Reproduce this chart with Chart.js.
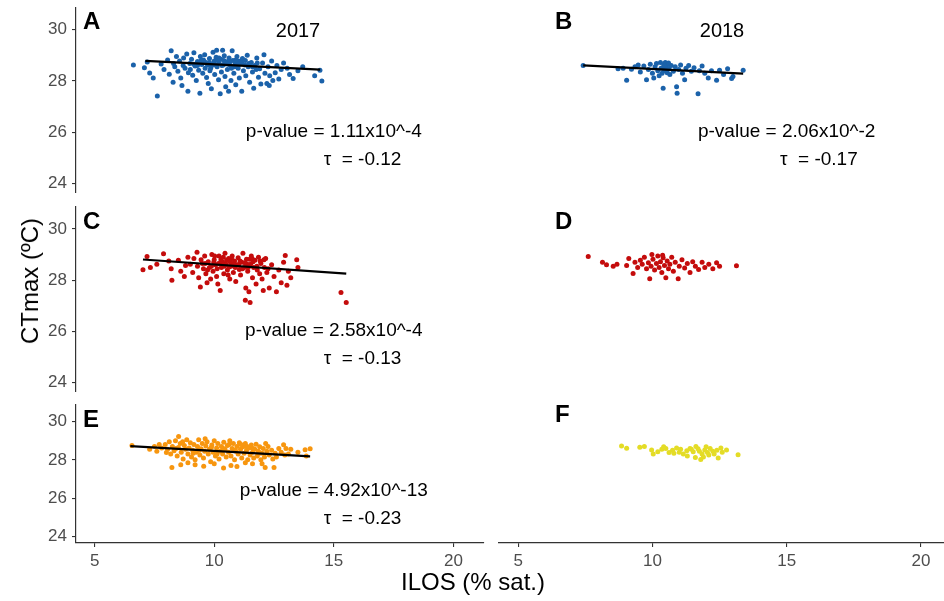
<!DOCTYPE html>
<html>
<head>
<meta charset="utf-8">
<script src="https://cdn.jsdelivr.net/npm/chart.js@4.4.0/dist/chart.umd.min.js"></script>
<style>
  body { margin: 0; background: #fff; }
  #wrap { position: relative; width: 944px; height: 601px; overflow: hidden; background: #fff; }
  #wrap canvas { position: absolute; left: 0; top: 0; }
  .axt { position: absolute; font-family: "Liberation Sans", Arial, sans-serif; font-size: 24px; color: #000; white-space: nowrap; }
</style>
</head>
<body>
<div id="wrap">
  <canvas id="pA" width="944" height="601"></canvas>
  <canvas id="pB" width="944" height="601"></canvas>
  <canvas id="pC" width="944" height="601"></canvas>
  <canvas id="pD" width="944" height="601"></canvas>
  <canvas id="pE" width="944" height="601"></canvas>
  <canvas id="pF" width="944" height="601"></canvas>
  <div class="axt" style="left:30px;top:281px;transform:translate(-50%,-50%) rotate(-90deg);">CTmax (ºC)</div>
  <div class="axt" style="left:473px;top:582px;transform:translate(-50%,-50%);">ILOS (% sat.)</div>
</div>
<script>
'use strict';

/* Data: [ILOS, CTmax] */

var xTicks = [5, 10, 15, 20];
var yTicks = [24, 26, 28, 30];
var yRange = [23.65, 30.87];
var xRangeLeft = [4.22, 21.28];
var xRangeRight = [4.26, 20.86];

var years = ['2017', '2018'];

// A - 2017, blue
var ptsA = [
  [6.62,28.62],[7.08,28.52],[7.30,28.31],[7.45,28.12],[7.62,27.42],[7.2,28.74],
  [7.78,28.66],[7.9,28.45],[8.05,28.82],[8.12,28.26],[8.2,29.18],[8.28,27.95],[8.35,28.55],[8.42,28.95],[8.48,28.38],[8.3,28.68],
  [8.55,28.78],[8.6,28.12],[8.65,27.82],[8.72,28.9],[8.78,28.5],[8.85,29.05],[8.9,27.6],[8.92,28.32],[8.98,28.68],[9.05,28.85],
  [9.1,28.22],[9.15,29.1],[9.2,28.58],[9.25,28.02],[9.3,28.76],[9.35,28.42],[9.4,27.52],[9.42,28.95],[9.48,28.64],
  [9.52,28.3],[9.55,28.82],[9.6,29.02],[9.62,28.5],[9.68,28.14],[9.7,28.7],[9.75,27.9],[9.8,28.88],[9.82,28.4],[9.88,27.7],
  [9.9,28.6],[9.95,29.12],[10.0,28.78],[10.02,28.25],[10.08,28.92],[10.1,29.2],[10.12,28.55],[10.18,28.05],[10.2,28.7],
  [10.25,27.5],[10.28,28.85],[10.3,28.35],[10.35,29.2],[10.38,28.62],[10.42,28.98],[10.45,28.18],[10.48,27.78],
  [10.52,28.75],[10.55,28.45],[10.6,27.6],[10.62,28.9],[10.68,28.6],[10.7,28.02],[10.75,29.18],[10.78,28.8],[10.82,28.3],
  [10.88,28.68],[10.9,27.85],[10.95,28.95],[11.0,28.5],[11.05,28.12],[11.1,28.78],[11.15,27.6],[11.18,28.88],[11.22,28.4],
  [11.28,28.62],[11.32,28.2],[11.38,29.0],[11.42,28.55],[11.48,27.95],
  [11.55,28.72],[11.6,28.35],[11.65,27.72],[11.7,28.6],[11.78,28.9],[11.85,28.15],[11.9,28.48],[11.95,27.88],[12.02,28.7],
  [12.08,29.02],[12.12,28.3],[12.2,27.9],[12.25,28.55],[12.32,28.2],[12.4,28.78],[12.45,28.02],
  [12.55,28.32],[12.62,28.6],[12.7,28.08],[12.8,28.45],[12.9,28.7],[13.05,28.5],[13.15,28.25],[13.3,28.1],[13.5,28.4],
  [13.7,28.55],[14.2,28.2],[14.42,28.42],[14.5,28.0],[12.3,27.82],
  [9.0,28.45],[9.3,28.6],[9.6,28.75],[9.85,28.5],[10.05,28.62],[10.4,28.8],[10.65,28.75],[10.85,28.55],[11.05,28.65],
  [11.3,28.8],[11.6,28.55],[11.8,28.7],[10.2,28.9],[9.45,28.8],[8.7,28.6],
  [9.15,28.65],[9.38,28.72],[9.72,28.62],[9.98,28.68],[10.15,28.8],[10.32,28.6],[10.58,28.65],[10.72,28.5],[10.98,28.78],
  [11.15,28.7],[11.45,28.68],[11.75,28.45],[10.45,28.7],[9.8,28.72],[10.9,28.82]
];
var fitA = [[7.12,28.78],[14.43,28.44]];

// B - 2018, blue
var ptsB = [
  [7.42,28.6],[8.72,28.48],[8.91,28.5],[9.04,28.03],[9.22,28.46],[9.35,28.55],[9.47,28.62],[9.55,28.35],[9.68,28.58],
  [9.78,28.05],[9.85,28.45],[9.92,28.65],[10.0,28.3],[10.05,28.12],[10.1,28.55],[10.15,28.68],[10.2,28.4],[10.25,28.2],
  [10.3,28.72],[10.32,28.5],[10.36,28.3],[10.4,27.72],[10.42,28.62],[10.45,28.42],[10.48,28.72],[10.52,28.55],[10.55,28.32],
  [10.58,28.65],[10.62,28.48],[10.65,28.25],[10.7,28.6],[10.78,28.38],[10.85,28.55],[10.9,27.78],[10.92,27.52],[10.98,28.45],
  [11.05,28.62],[11.12,28.3],[11.2,28.05],[11.25,28.5],[11.35,28.6],[11.45,28.38],[11.55,28.52],[11.7,27.5],[11.75,28.4],
  [11.85,28.58],[11.95,28.3],[12.08,28.12],[12.2,28.4],[12.39,28.03],[12.5,28.42],[12.65,28.25],[12.8,28.48],[12.95,28.1],
  [13.0,28.18],[13.38,28.42],[10.4,28.5],[10.5,28.4],[10.6,28.7],[10.45,28.6],[10.55,28.45]
];
var fitB = [[7.42,28.61],[13.38,28.29]];

// C - 2017, red
var ptsC = [
  [7.02,28.41],[7.19,28.93],[7.33,28.5],[7.6,28.62],[7.88,29.03],[8.1,28.75],[8.2,28.45],[8.23,28.0],[8.5,28.78],[8.6,28.35],
  [8.75,28.15],[8.8,28.58],[8.9,28.9],[9.0,28.62],[9.1,28.3],[9.15,28.85],[9.28,29.09],[9.35,28.1],[9.42,27.74],[9.5,28.65],
  [9.55,28.45],[9.6,28.95],[9.65,28.25],[9.7,27.9],[9.75,28.72],[9.8,28.5],[9.85,28.05],[9.9,29.0],[9.95,28.35],[10.0,28.8],
  [10.05,28.6],[10.1,28.15],[10.15,27.85],[10.2,28.95],[10.25,27.6],[10.3,28.5],[10.35,28.7],[10.4,28.25],[10.45,29.05],
  [10.5,28.62],[10.55,28.4],[10.6,28.85],[10.65,28.05],[10.7,28.55],[10.75,28.95],[10.8,28.3],[10.85,28.75],[10.9,27.95],
  [10.95,28.6],[11.0,28.88],[11.05,28.42],[11.1,28.2],[11.15,28.7],[11.2,29.05],[11.25,28.5],[11.3,27.22],[11.32,27.7],
  [11.35,28.82],[11.4,28.35],[11.45,27.55],[11.5,27.13],[11.52,28.62],[11.55,28.95],[11.6,28.1],[11.65,28.5],[11.7,28.78],
  [11.75,27.85],[11.8,28.4],[11.85,28.9],[11.9,28.25],[11.95,28.65],[12.0,28.05],[12.05,27.6],[12.1,28.5],[12.15,28.85],
  [12.2,28.3],[12.3,27.7],[12.4,28.6],[12.5,28.15],[12.6,27.55],[12.7,28.4],[12.8,27.9],[12.9,28.7],[12.97,28.97],[13.04,27.8],
  [13.1,28.35],[13.2,28.1],[13.45,28.8],[13.5,28.5],[15.3,27.52],[15.52,27.13],
  [9.3,28.55],[9.45,28.8],[9.62,28.65],[9.72,28.4],[9.88,28.55],[10.02,28.95],[10.12,28.45],[10.28,28.8],[10.42,28.55],
  [10.58,28.2],[10.72,28.85],[10.88,28.5],[11.02,28.6],[11.18,28.45],[11.38,28.62],[11.48,28.82],[11.62,28.72],[11.78,28.55],
  [11.92,28.75],[12.08,28.8],[12.25,28.45],
  [10.18,28.65],[10.38,28.9],[10.52,28.78],[10.68,28.7],[10.82,28.6],[11.08,28.75],[11.28,28.68],[11.42,28.5],[11.58,28.85],
  [9.98,28.7],[10.62,28.52]
];
var fitC = [[7.02,28.81],[15.52,28.26]];

// D - 2018, red
var ptsD = [
  [7.61,28.93],[8.14,28.7],[8.29,28.6],[8.54,28.55],[8.68,28.62],[9.04,28.58],[9.12,28.85],[9.28,28.26],[9.35,28.7],[9.45,28.5],
  [9.55,28.78],[9.62,28.62],[9.7,28.9],[9.78,28.45],[9.85,28.68],[9.9,28.06],[9.95,28.55],[10.02,28.82],[10.08,28.4],
  [10.15,28.65],[10.2,28.95],[10.25,28.5],[10.3,28.72],[10.35,28.3],[10.4,28.88],[10.45,28.58],[10.5,28.1],[10.55,28.75],
  [10.6,28.45],[10.65,28.62],[10.72,28.9],[10.78,28.35],[10.85,28.7],[10.96,28.06],[11.0,28.55],[11.1,28.8],[11.2,28.48],
  [11.3,28.65],[11.4,28.3],[11.5,28.72],[11.6,28.55],[11.72,28.42],[11.85,28.7],[11.95,28.5],[12.1,28.62],[12.25,28.45],
  [12.39,28.68],[12.5,28.55],[13.13,28.57],[9.98,29.0],[10.38,28.98]
];

// E - 2017, orange
var ptsE = [
  [6.56,28.75],[7.3,28.55],[7.6,28.45],[7.8,28.62],[8.0,28.38],[8.23,27.6],[8.51,29.22],[8.6,27.75],[9.56,27.66],[10.0,27.8],
  [10.39,27.57],[10.95,27.65],[11.6,27.8],[12.13,27.6],[12.5,27.6],[12.9,28.79],[13.2,28.55],[13.5,28.4],[13.8,28.53],
  [14.01,28.58],[13.85,28.2],[13.1,28.3],[12.7,28.6],
  [7.95,28.8],[8.05,28.55],[8.12,28.95],[8.18,28.3],[8.25,28.7],[8.32,28.48],[8.38,29.0],[8.45,28.2],[8.5,28.65],[8.58,28.85],
  [8.62,28.4],[8.7,28.05],[8.75,28.75],[8.8,28.55],[8.85,29.05],[8.9,28.3],[8.95,28.62],[9.0,28.9],[9.05,28.15],[9.1,28.5],
  [9.15,28.8],[9.2,28.0],[9.25,28.4],[9.3,28.7],[9.35,29.05],[9.4,28.25],[9.45,28.58],[9.5,28.85],[9.55,28.1],[9.6,28.45],
  [9.65,28.72],[9.7,28.95],[9.75,28.3],[9.8,28.55],[9.85,27.9],[9.9,28.78],[9.95,28.4],[10.0,29.0],[10.05,28.2],[10.1,28.62],
  [10.15,28.85],[10.2,28.05],[10.25,28.45],[10.3,28.7],[10.35,28.3],[10.4,28.92],[10.45,28.55],[10.5,28.15],[10.55,28.75],
  [10.6,28.4],[10.65,29.0],[10.7,28.2],[10.75,28.6],[10.8,28.85],[10.85,28.0],[10.9,28.45],[10.95,28.7],[11.0,28.3],
  [11.05,28.9],[11.1,28.55],[11.15,28.1],[11.2,28.68],[11.25,28.35],[11.3,28.85],[11.35,28.5],[11.4,28.0],[11.45,28.62],
  [11.5,28.25],[11.55,28.78],[11.6,28.4],[11.65,28.1],[11.7,28.55],[11.75,28.82],[11.8,28.2],[11.85,28.45],[11.9,28.68],
  [11.95,28.0],[12.0,28.35],[12.05,28.6],[12.1,28.15],[12.2,28.45],[12.25,28.7],[12.3,28.25],[12.4,28.5],[12.45,28.05],
  [12.55,28.35],[12.6,28.15],[12.8,28.4],[12.95,28.25],[13.0,28.6],[8.4,28.6],[8.68,28.95],[9.12,28.35],[9.38,28.5],
  [9.62,29.1],[9.88,28.65],[10.12,28.3],[10.38,28.6],[10.62,28.8],[10.88,28.5],[11.12,28.8],[11.38,28.7],[11.62,28.6],
  [11.88,28.35],[12.15,28.85],[7.7,28.8],[7.5,28.7],[9.2,27.75],[10.7,27.7],[11.3,27.85],[8.9,27.85],[12.0,27.8]
];
var fitE = [[6.49,28.72],[14.01,28.18]];

// F - 2018, yellow
var ptsF = [
  [8.85,28.73],[9.04,28.61],[9.53,28.66],[9.7,28.7],[9.97,28.51],[10.03,28.3],[10.2,28.42],[10.35,28.55],[10.5,28.6],
  [10.62,28.38],[10.75,28.5],[10.9,28.62],[11.15,28.3],[11.28,28.48],[11.4,28.6],[11.52,28.42],[11.62,28.7],[11.75,28.45],
  [11.85,28.3],[11.95,28.52],[12.05,28.38],[12.15,28.6],[12.25,28.45],[12.4,28.5],[12.55,28.62],[12.76,28.51],[13.19,28.27],
  [11.3,28.2],[11.6,28.12],[11.9,28.15],[12.1,28.25],[11.0,28.4],[10.8,28.35],[12.3,28.3],[11.45,28.55],[11.7,28.58],
  [12.0,28.68],[12.6,28.4],[10.42,28.68],[11.05,28.55],[11.8,28.02],[12.45,28.1]
];

var pValues = { A: 'p-value = 1.11x10^-4', B: 'p-value = 2.06x10^-2', C: 'p-value = 2.58x10^-4', E: 'p-value = 4.92x10^-13' };
var taus = { A: 'τ  = -0.12', B: 'τ  = -0.17', C: 'τ  = -0.13', E: 'τ  = -0.23' };
// where the p-value line sits, in CTmax units
var statY = { A: 26.04, B: 26.04, C: 26.02, E: 26.36 };

var FONT = '"Liberation Sans", Arial, sans-serif';
var Y_AXIS_W = 76;
var X_AXIS_H = 30;
var STAT_GAP = 28;

var panels = [
  { id: 'A', pts: ptsA, fit: fitA, color: '#1b62aa', area: [76, 7.3, 484, 192.7], yAxis: true,  xAxis: false, xr: xRangeLeft,  letter: [83, 29],  title: years[0], titleAt: [298, 31] },
  { id: 'B', pts: ptsB, fit: fitB, color: '#1b62aa', area: [498.3, 7.3, 944, 192.7], yAxis: false, xAxis: false, xr: xRangeRight, letter: [555, 29], title: years[1], titleAt: [722, 31] },
  { id: 'C', pts: ptsC, fit: fitC, color: '#c40c0c', area: [76, 206.7, 484, 391.7], yAxis: true,  xAxis: false, xr: xRangeLeft,  letter: [83, 229] },
  { id: 'D', pts: ptsD, fit: null, color: '#c40c0c', area: [498.3, 206.7, 944, 391.7], yAxis: false, xAxis: false, xr: xRangeRight, letter: [555, 229] },
  { id: 'E', pts: ptsE, fit: fitE, color: '#f7960f', area: [76, 405, 484, 543], yAxis: true,  xAxis: true,  xr: xRangeLeft,  letter: [83, 427] },
  { id: 'F', pts: ptsF, fit: null, color: '#e4dc26', area: [498.3, 405, 944, 543], yAxis: false, xAxis: true,  xr: xRangeRight, letter: [555, 422] }
];

var textPlugin = {
  id: 'panelText',
  afterDraw: function(chart) {
    var p = chart.options.plugins.panelText;
    var ctx = chart.ctx;
    var xs = chart.scales.x, ys = chart.scales.y;
    ctx.save();
    ctx.fillStyle = '#000';
    ctx.textBaseline = 'alphabetic';
    ctx.textAlign = 'left';
    ctx.font = 'bold 24px ' + FONT;
    ctx.fillText(p.id, p.letter[0], p.letter[1]);
    if (p.title) {
      ctx.font = '20px ' + FONT;
      ctx.textAlign = 'center';
      ctx.textBaseline = 'middle';
      ctx.fillText(p.title, p.titleAt[0], p.titleAt[1]);
    }
    if (pValues[p.id]) {
      var py = ys.getPixelForValue(statY[p.id]);
      ctx.font = '19px ' + FONT;
      ctx.textAlign = 'center';
      ctx.textBaseline = 'middle';
      ctx.fillText(pValues[p.id], xs.getPixelForValue(15), py);
      ctx.fillText(taus[p.id], xs.getPixelForValue(16.2), py + STAT_GAP);
    }
    ctx.restore();
  }
};

function makePanel(p) {
  var L = p.area[0], T = p.area[1], R = p.area[2], B = p.area[3];
  var datasets = [];
  if (p.fit) {
    datasets.push({
      type: 'line',
      data: p.fit.map(function(d) { return { x: d[0], y: d[1] }; }),
      borderColor: '#000',
      borderWidth: 2.2,
      pointRadius: 0,
      fill: false
    });
  }
  datasets.push({
    type: 'scatter',
    data: p.pts.map(function(d) { return { x: d[0], y: d[1] }; }),
    backgroundColor: p.color,
    borderWidth: 0,
    pointRadius: 2.5
  });

  var ctx = document.getElementById('p' + p.id).getContext('2d');
  return new Chart(ctx, {
    type: 'scatter',
    data: { datasets: datasets },
    options: {
      responsive: false,
      animation: false,
      layout: {
        autoPadding: false,
        padding: {
          left: p.yAxis ? L - Y_AXIS_W : L,
          right: 944 - R,
          top: T,
          bottom: p.xAxis ? 601 - B - X_AXIS_H : 601 - B
        }
      },
      plugins: {
        legend: { display: false },
        tooltip: { enabled: false },
        panelText: p
      },
      scales: {
        x: {
          type: 'linear',
          min: p.xr[0],
          max: p.xr[1],
          display: p.xAxis,
          afterBuildTicks: function(s) { s.ticks = xTicks.map(function(v) { return { value: v }; }); },
          afterFit: function(s) {
            s.height = p.xAxis ? X_AXIS_H : 0;
            s.paddingLeft = 0; s.paddingRight = 0;
          },
          grid: { drawOnChartArea: false, drawTicks: true, tickLength: 4, color: '#333', lineWidth: 1.1 },
          border: { display: true, color: '#333', width: 1.2 },
          ticks: { padding: 4, color: '#4d4d4d', font: { family: FONT, size: 17 }, maxRotation: 0 }
        },
        y: {
          type: 'linear',
          min: yRange[0],
          max: yRange[1],
          display: p.yAxis,
          afterBuildTicks: function(s) { s.ticks = yTicks.map(function(v) { return { value: v }; }); },
          afterFit: function(s) {
            s.width = p.yAxis ? Y_AXIS_W : 0;
            s.paddingTop = 0; s.paddingBottom = 0;
          },
          grid: { drawOnChartArea: false, drawTicks: true, tickLength: 4, color: '#333', lineWidth: 1.1 },
          border: { display: true, color: '#333', width: 1.2 },
          ticks: { padding: 5, color: '#4d4d4d', font: { family: FONT, size: 17 } }
        }
      }
    },
    plugins: [textPlugin]
  });
}

panels.forEach(makePanel);
</script>
</body>
</html>
